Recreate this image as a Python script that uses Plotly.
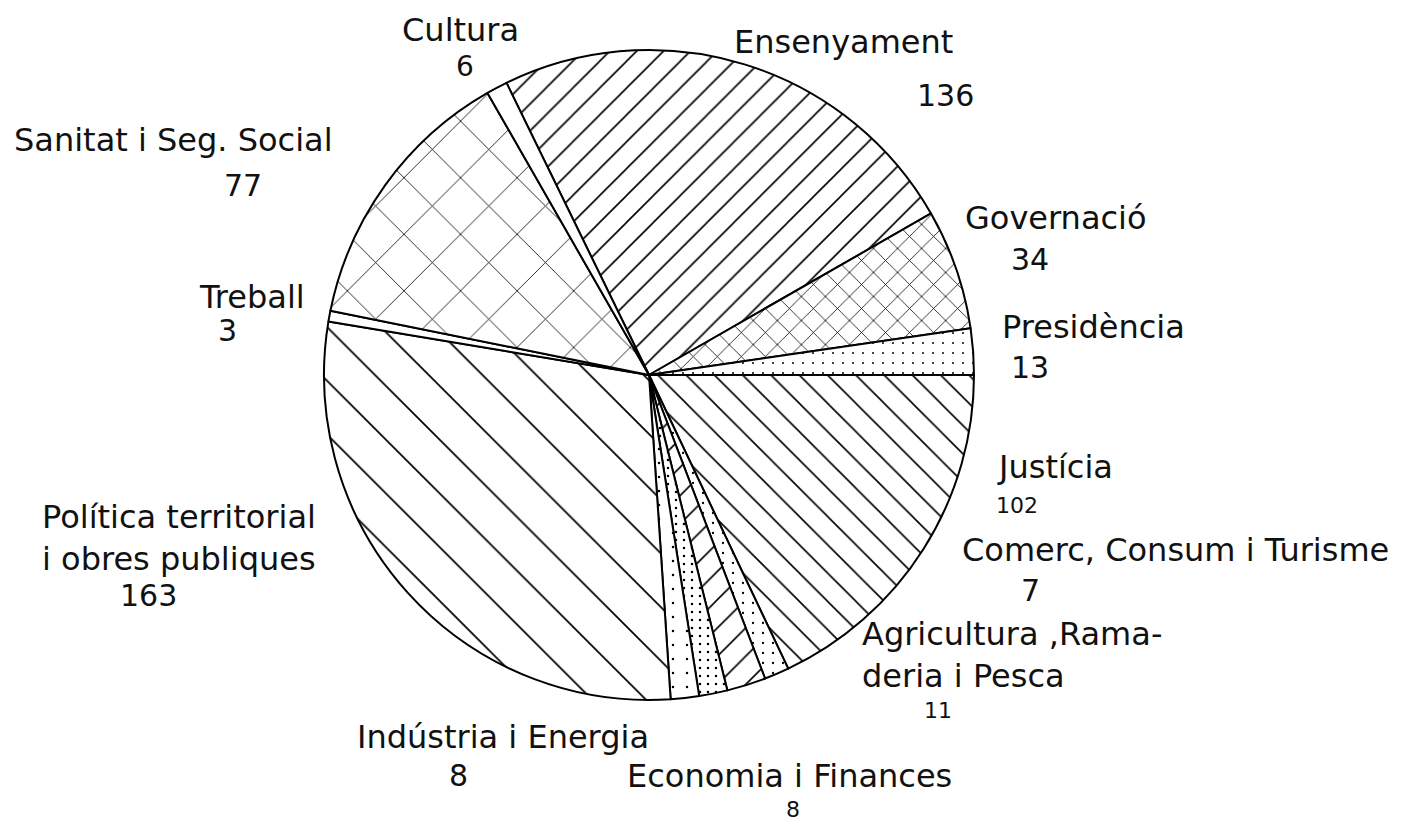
import plotly.graph_objects as go

# departments, clockwise from the top
categories = [
    "Ensenyament", "Governació", "Presidència", "Justícia",
    "Comerc, Consum i Turisme", "Agricultura ,Rama-<br>deria i Pesca",
    "Economia i Finances", "Indústria i Energia",
    "Política territorial<br>i obres publiques", "Treball",
    "Sanitat i Seg. Social", "Cultura",
]
values = [136, 34, 13, 102, 7, 11, 8, 8, 163, 3, 77, 6]
hatches = ["/", "x", ".", "\\", ".", "/", ".", ".", "\\", "", "x", ""]
hatch_sizes = [19, 17, 10, 20, 10, 20, 8, 14, 38, 8, 40, 8]
hatch_solid = [0.085, 0.09, 0.03, 0.08, 0.04, 0.08, 0.08, 0.025, 0.045, 0.1, 0.04, 0.1]

# label placement (pixel positions of name and value)
name_pos = [(732, 42), (963, 218), (1000, 327), (995, 467),
            (960, 550), (860, 655), (625, 776), (355, 737),
            (40, 538), (197, 297), (12, 140), (400, 30)]
value_pos = [(945, 95), (1030, 260), (1030, 367), (1017, 505), (1030, 590), (938, 710),
             (793, 809), (458, 775), (148, 595), (228, 330), (243, 185), (465, 66)]
value_sizes = [30, 30, 30, 22, 30, 22, 22, 30, 30, 30, 30, 28]

W, H = 1409, 825
OFF = 8  # the page body has an 8px margin
TEXT = "#111111"
FONT = "DejaVu Sans"


def px(x):
    return (x - OFF) / W


def py(y):
    return 1 - (y - OFF) / H


fig = go.Figure(go.Pie(
    labels=categories,
    values=values,
    sort=False,
    direction="clockwise",
    rotation=-26,
    textinfo="none",
    hoverinfo="label+value",
    marker=dict(
        colors=["white"] * len(values),
        line=dict(color="black", width=2),
        pattern=dict(
            shape=hatches,
            size=hatch_sizes,
            solidity=hatch_solid,
            fgcolor="black",
            fgopacity=1,
            bgcolor="white",
            fillmode="overlay",
        ),
    ),
    domain=dict(x=[px(324), px(974)], y=[py(700), py(50)]),
    showlegend=False,
))

for name, (nx, ny), val, (vx, vy), vs in zip(categories, name_pos, values, value_pos, value_sizes):
    fig.add_annotation(x=px(nx), y=py(ny), xref="paper", yref="paper", text=name,
                       showarrow=False, xanchor="left", yanchor="middle", align="left",
                       font=dict(size=32, color=TEXT, family=FONT))
    fig.add_annotation(x=px(vx), y=py(vy), xref="paper", yref="paper", text=str(val),
                       showarrow=False, xanchor="center", yanchor="middle",
                       font=dict(size=vs, color=TEXT, family=FONT))

fig.update_layout(
    width=W, height=H,
    paper_bgcolor="white",
    plot_bgcolor="white",
    margin=dict(t=0, b=0, l=0, r=0),
    font=dict(family=FONT, color=TEXT),
)

fig.write_html("out.html")
